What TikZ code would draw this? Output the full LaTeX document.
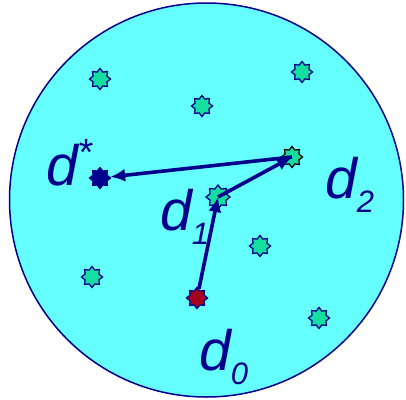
\documentclass[tikz,border=0pt]{standalone}
\usepackage{fontspec}
\setmainfont{Liberation Sans}
\usetikzlibrary{arrows, arrows.meta, shapes.geometric}
\definecolor{sky}{RGB}{102,255,255}
\definecolor{navy}{RGB}{0,0,140}
\definecolor{mint}{RGB}{20,222,160}
\definecolor{wine}{RGB}{165,0,30}
\tikzset{pt/.style = {shape = star, star points = 8, star point ratio = 1.4, draw = navy, line width = 1.3pt, fill = mint, inner sep = 0pt, minimum size = 21pt}}
\tikzset{edge/.style = {-{Latex[length=15pt, width=13pt]}, draw = navy, line width = 3.6pt}}
\tikzset{lab/.style = {text = navy, anchor = base west, inner sep = 0pt, font = \fontsize{57}{57}\selectfont\itshape}}
\newcommand{\sub}[1]{{\fontsize{31}{31}\selectfont\raisebox{-14pt}{#1}}}

\begin{document}
\begin{tikzpicture}[x = 1pt, y = -1pt]
				\useasboundingbox (0, 0) rectangle (406, 399);
				\draw[navy, fill = sky, line width = 1.5pt] (206.5, 200) circle[radius = 197];

				\node[pt] (p1) at (100, 79) {};
				\node[pt] (p2) at (202, 106) {};
				\node[pt] (p3) at (302, 72) {};
				\node[pt] (p4) at (260, 246) {};
				\node[pt] (p5) at (92, 277) {};
				\node[pt] (p6) at (319, 318) {};
				\node[pt, draw = black] (d2) at (292, 157) {};
				\node[pt, minimum size = 24pt] (d1) at (218, 197) {};
				\node[pt, fill = navy] (ds) at (100, 178) {};
				\node[pt, fill = wine] (d0) at (197, 298) {};

				\draw[edge] (d0) to (d1.center);
				\draw[edge] (d1.center) to (d2.center);
				\draw[edge] (d2.center) to (ds);

				\node[lab] (l0) at (199, 370) {d\sub{0}};
				\node[lab] (l1) at (160, 230) {d\sub{1}};
				\node[lab] (l2) at (325, 198) {d\sub{2}};
				\node[lab] (ls) at (46, 185) {d{\fontsize{38}{38}\selectfont\raisebox{20pt}{*}}};
			\end{tikzpicture}
\end{document}
